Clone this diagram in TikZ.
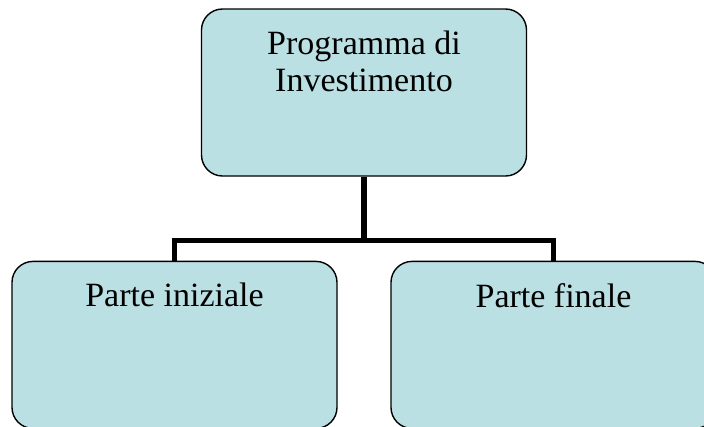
\documentclass[tikz,border=0pt]{standalone}
\usepackage{fontspec}
\setmainfont{Liberation Serif}
\usetikzlibrary{positioning}

\definecolor{boxblue}{RGB}{187,224,227}
\newcommand{\boxtext}[1]{\parbox[c][163pt][t]{300pt}{\centering\vspace*{20pt}#1}}

\begin{document}
\begin{tikzpicture}[x=1pt, y=-1pt,
	box/.style={draw, fill=boxblue, line width=1.4pt, rounded corners=21pt,
		minimum width=325pt, minimum height=167pt, inner sep=0pt,
		font=\fontsize{34}{37}\selectfont},
	bar/.style={line width=5.5pt}]
	\useasboundingbox (0,0) rectangle (704,426);

	\node[box] (prog) at (364,92.5) {\boxtext{Programma di\\Investimento}};
	\node[box, below=84pt of prog, xshift=-189.5pt] (ini) {\boxtext{Parte iniziale}};
	\node[box, below=84pt of prog, xshift=189.5pt] (fin) {\boxtext{Parte finale}};

	\coordinate (bus) at ([yshift=-64pt]prog.south);

	\draw[bar] (prog.south) -- (bus);
	\draw[bar] (ini.north) |- (bus) -| (fin.north);
\end{tikzpicture}
\end{document}
